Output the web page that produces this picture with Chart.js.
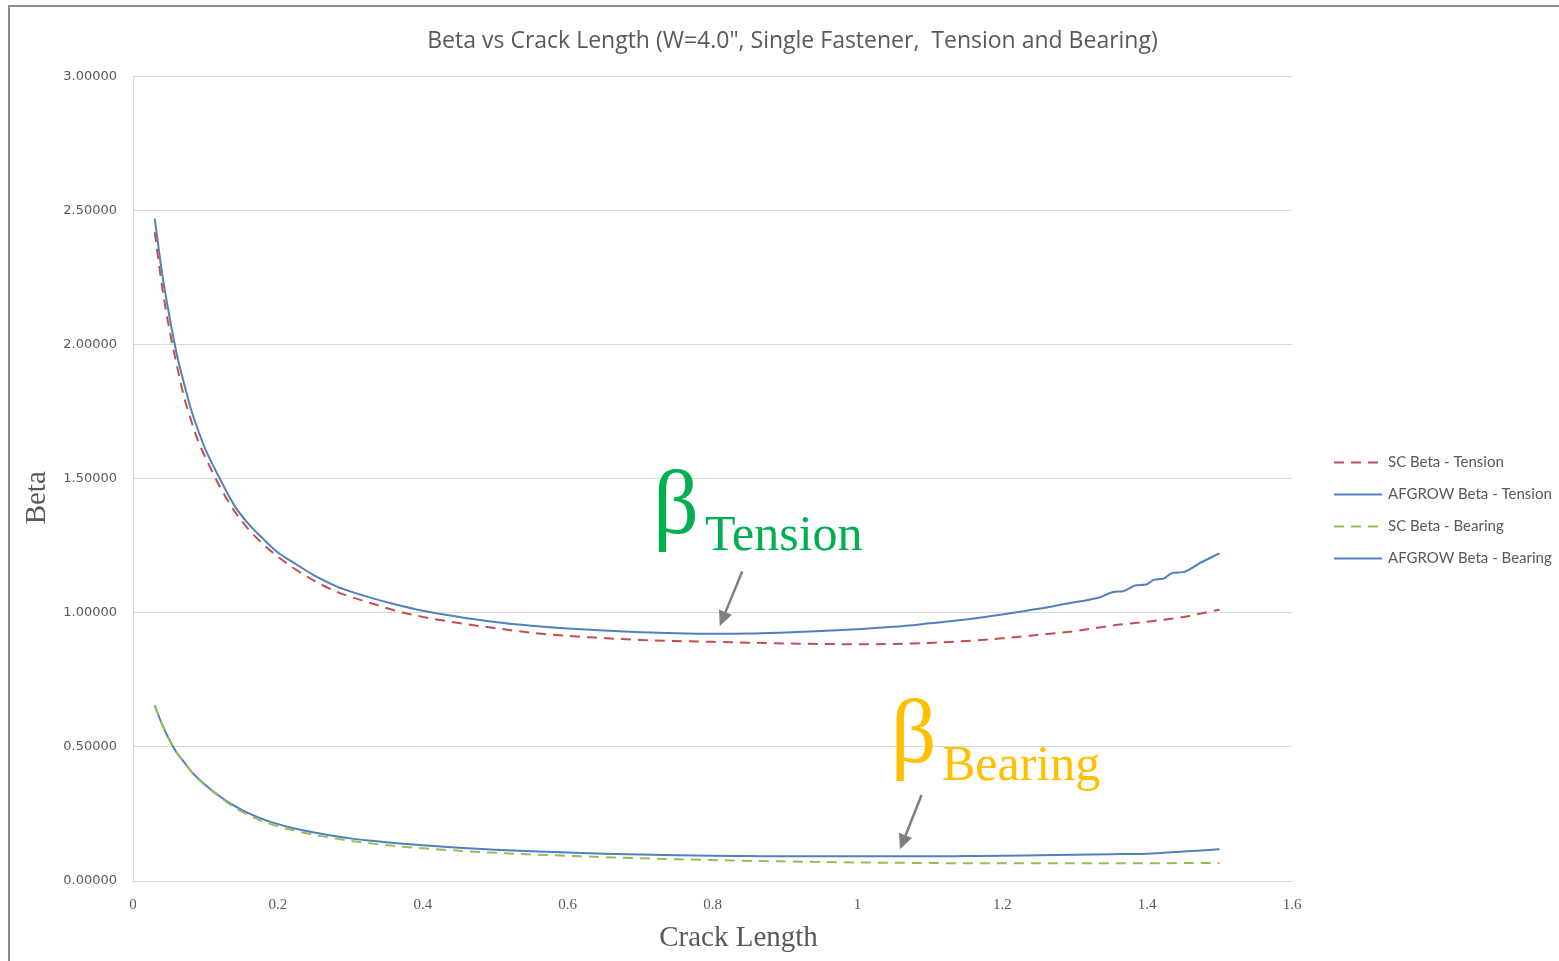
<!DOCTYPE html>
<html>
<head>
<meta charset="utf-8">
<script src="https://cdn.jsdelivr.net/npm/chart.js@4.4.1/dist/chart.umd.min.js"></script>
<style>
html,body{margin:0;padding:0;background:#fff;overflow:hidden;}
#wrap{position:absolute;left:0;top:0;width:1583px;height:980px;}
#frame{position:absolute;left:8px;top:5px;width:1600px;height:1000px;border:2px solid #8c8c8c;box-sizing:border-box;pointer-events:none;}
</style>
</head>
<body>
<div id="wrap"><canvas id="betaChart"></canvas></div>
<div id="frame"></div>
<script>
// crack length (in) shared by the SC curves and AFGROW bearing
const crackLength=[0.03,0.04,0.05,0.06,0.07,0.08,0.09,0.10,0.12,0.14,0.16,0.18,0.20,0.22,0.25,0.28,0.30,0.33,0.36,0.40,0.45,0.50,0.55,0.60,0.65,0.70,0.75,0.80,0.85,0.90,0.95,1.00,1.05,1.10,1.15,1.20,1.25,1.30,1.35,1.40,1.45,1.50];
// AFGROW tension output is denser near the end (small steps)
const afgrowTensionLength=[0.03,0.04,0.05,0.06,0.07,0.08,0.09,0.10,0.12,0.14,0.16,0.18,0.20,0.22,0.25,0.28,0.30,0.33,0.36,0.40,0.45,0.50,0.55,0.60,0.65,0.70,0.75,0.80,0.85,0.90,0.95,1.00,1.05,1.10,1.15,1.20,1.25,1.30,1.32,1.335,1.353,1.367,1.385,1.399,1.41,1.422,1.434,1.45,1.473,1.50];

const scTension=[2.42,2.22,2.06,1.93,1.81,1.72,1.64,1.58,1.47,1.38,1.31,1.255,1.21,1.17,1.12,1.08,1.06,1.035,1.01,0.985,0.962,0.943,0.926,0.914,0.906,0.899,0.895,0.892,0.889,0.886,0.884,0.883,0.884,0.888,0.895,0.905,0.918,0.932,0.952,0.967,0.985,1.012];
const afgrowTension=[2.47,2.27,2.11,1.97,1.86,1.76,1.68,1.61,1.50,1.40,1.33,1.275,1.225,1.19,1.14,1.10,1.08,1.055,1.033,1.008,0.985,0.966,0.952,0.942,0.934,0.928,0.924,0.922,0.923,0.927,0.932,0.939,0.948,0.961,0.975,0.994,1.015,1.040,1.049,1.058,1.078,1.081,1.103,1.106,1.124,1.127,1.148,1.152,1.186,1.222];
const scBearing=[0.655,0.585,0.528,0.48,0.445,0.41,0.38,0.356,0.313,0.274,0.245,0.222,0.204,0.19,0.172,0.158,0.15,0.14,0.131,0.122,0.113,0.105,0.099,0.094,0.089,0.085,0.081,0.078,0.075,0.073,0.071,0.069,0.068,0.067,0.066,0.066,0.066,0.066,0.066,0.066,0.067,0.067];
const afgrowBearing=[0.655,0.585,0.528,0.48,0.445,0.41,0.382,0.358,0.315,0.28,0.252,0.23,0.212,0.198,0.181,0.167,0.159,0.15,0.142,0.133,0.124,0.117,0.111,0.106,0.102,0.099,0.096,0.094,0.093,0.092,0.092,0.092,0.092,0.092,0.093,0.094,0.096,0.098,0.100,0.102,0.11,0.118];

const seriesNames=["SC Beta - Tension","AFGROW Beta - Tension","SC Beta - Bearing","AFGROW Beta - Bearing"];
const yTicks=[0,0.5,1,1.5,2,2.5,3];
const xTicks=[0,0.2,0.4,0.6,0.8,1,1.2,1.4,1.6];

const GREY="#595959";

function pts(xs,ys){return xs.map((x,i)=>({x:x,y:ys[i]}));}

function line(label,data,color,dash){
return {label:label,data:data,borderColor:color,backgroundColor:color,borderWidth:2,
borderDash:dash,pointRadius:0,cubicInterpolationMode:"monotone",fill:false,yAxisID:"y"};
}

// legend drawn at the right, like the Excel original
const sideLegend={
id:"sideLegend",
afterDraw(chart){
const {ctx,chartArea}=chart;
const x0=chartArea.right+42, y0=chartArea.top+386;
chart.data.datasets.forEach((ds,i)=>{
const y=y0+i*32;
ctx.save();
ctx.strokeStyle=ds.borderColor;ctx.lineWidth=2;
ctx.setLineDash(ds.borderDash||[]);
ctx.beginPath();ctx.moveTo(x0,y);ctx.lineTo(x0+48,y);ctx.stroke();
ctx.setLineDash([]);
ctx.fillStyle=GREY;ctx.font="15px Lato";ctx.textBaseline="middle";
ctx.fillText(ds.label,x0+54,y);
ctx.restore();
});
}
};

// axis titles, placed where Excel put them
const axisTitles={
id:"axisTitles",
afterDraw(chart){
const {ctx,chartArea:a}=chart;
ctx.save();
ctx.fillStyle=GREY;ctx.font='29px "Liberation Serif"';
ctx.textAlign="center";ctx.textBaseline="middle";
ctx.fillText("Crack Length",(a.left+a.right)/2+26,a.bottom+57);
ctx.translate(37,(a.top+a.bottom)/2+19);
ctx.rotate(-Math.PI/2);
ctx.fillText("Beta",0,0);
ctx.restore();
}
};

// the big beta labels with arrows, anchored in data units
const betaNotes={
id:"betaNotes",
afterDatasetsDraw(chart){
const {ctx,scales}=chart;
const px=v=>scales.x.getPixelForValue(v), py=v=>scales.y.getPixelForValue(v);
const notes=[
{sub:"Tension",color:"#00b050",beta:[0.718,1.2985],text:[0.7896,1.235],from:[0.841,1.154],to:[0.810,0.951]},
{sub:"Bearing",color:"#ffc000",beta:[1.046,0.444],text:[1.1168,0.377],from:[1.0886,0.321],to:[1.0588,0.118]}
];
notes.forEach(n=>{
ctx.save();
ctx.fillStyle=n.color;ctx.textBaseline="alphabetic";
ctx.font='90px "Liberation Serif"';
ctx.fillText("β",px(n.beta[0]),py(n.beta[1]));
ctx.font='50px "Liberation Serif"';
ctx.fillText(n.sub,px(n.text[0]),py(n.text[1]));
// arrow
const x1=px(n.from[0]),y1=py(n.from[1]),x2=px(n.to[0]),y2=py(n.to[1]);
const ang=Math.atan2(y2-y1,x2-x1),L=15,W=7;
const bx=x2-L*Math.cos(ang),by=y2-L*Math.sin(ang);
ctx.strokeStyle="#7f7f7f";ctx.fillStyle="#7f7f7f";ctx.lineWidth=2.5;
ctx.beginPath();ctx.moveTo(x1,y1);ctx.lineTo(bx,by);ctx.stroke();
ctx.beginPath();ctx.moveTo(x2,y2);
ctx.lineTo(bx+W*Math.sin(ang),by-W*Math.cos(ang));
ctx.lineTo(bx-W*Math.sin(ang),by+W*Math.cos(ang));
ctx.closePath();ctx.fill();
ctx.restore();
});
}
};

Chart.defaults.color=GREY;

new Chart(document.getElementById("betaChart"),{
type:"line",
data:{datasets:[
line(seriesNames[0],pts(crackLength,scTension),"#c0504d",[10,7]),
line(seriesNames[1],pts(afgrowTensionLength,afgrowTension),"#4f81bd",[]),
line(seriesNames[2],pts(crackLength,scBearing),"#9bbb59",[10,7]),
line(seriesNames[3],pts(crackLength,afgrowBearing),"#4f81bd",[])
]},
options:{
responsive:true,maintainAspectRatio:false,animation:false,
layout:{padding:{left:12,top:0,right:10,bottom:23}},
plugins:{
legend:{display:false},
tooltip:{enabled:false},
title:{display:true,text:'Beta vs Crack Length (W=4.0", Single Fastener,  Tension and Bearing)',
color:GREY,font:{family:"Open Sans",size:23,weight:"normal"},padding:{top:28,bottom:21}}
},
scales:{
x:{type:"linear",min:0,max:1.6,
afterBuildTicks:s=>{s.ticks=xTicks.map(v=>({value:v}));},
afterFit:s=>{s.height=76;},
ticks:{color:GREY,font:{family:"Liberation Serif",size:15},padding:15,
callback:v=>String(Number(v.toFixed(1)))},
grid:{display:false,drawTicks:false},
border:{display:true,color:"#d9d9d9",width:1}
},
y:{min:0,max:3,
afterBuildTicks:s=>{s.ticks=yTicks.map(v=>({value:v}));},
afterFit:s=>{s.width=121;},
ticks:{color:GREY,font:{family:"DejaVu Sans",size:13},padding:16,
callback:v=>v.toFixed(5)},
grid:{color:"#d9d9d9",drawTicks:false},
border:{display:true,color:"#d9d9d9",width:1}
},
// empty right-hand axis that keeps room for the legend
legendRoom:{type:"linear",position:"right",display:true,
afterFit:s=>{s.width=281;},
ticks:{display:false},grid:{display:false,drawTicks:false},border:{display:false}}
}
},
plugins:[sideLegend,axisTitles,betaNotes]
});
</script>
</body>
</html>
